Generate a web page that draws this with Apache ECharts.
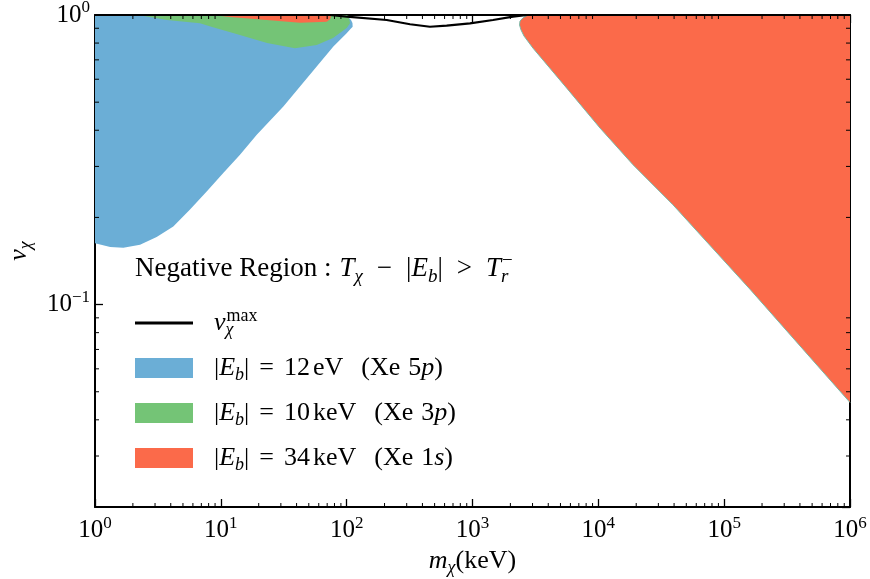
<!DOCTYPE html>
<html>
<head>
<meta charset="utf-8">
<script src="https://cdn.jsdelivr.net/npm/echarts@6/dist/echarts.min.js"></script>
<style>
  html, body { margin: 0; padding: 0; background: #fff; }
  #main { width: 870px; height: 579px; }
</style>
</head>
<body>
<div id="main"></div>
<script>
// axis ranges (log-log)
const xMin = 1, xMax = 1e6;
const yMin = 0.02, yMax = 1;

// major tick values
const xTicks = [1, 10, 100, 1e3, 1e4, 1e5, 1e6];
const yTicks = [0.1, 1];

// v_chi^max curve
const vMaxCurve = [[1, 1], [73.8, 1], [100, 0.987], [208, 0.961], [319, 0.929], [459, 0.911],
  [623, 0.919], [955, 0.936], [1455, 0.961], [2099, 0.987], [2712, 1], [1e6, 1]];

// lower edges of the negative regions (filled up to v = 1)
const blueEdge = [[1, 0.163], [1.32, 0.158], [1.68, 0.157], [2.28, 0.161], [3.09, 0.171], [4.19, 0.186],
  [5.69, 0.213], [7.72, 0.246], [10.5, 0.285], [14.2, 0.329], [19.3, 0.386], [31.4, 0.483],
  [42.6, 0.566], [57.8, 0.664], [78.4, 0.778], [100, 0.865], [107.2, 0.895], [111.6, 0.911],
  [111.2, 0.938], [108.3, 0.961], [103.4, 0.98], [97, 0.996], [93.7, 1]];

const greenEdge = [[2.16, 1], [2.74, 0.984], [3.73, 0.961], [6.83, 0.936], [8.66, 0.908], [12.5, 0.867],
  [23.3, 0.801], [38.8, 0.768], [57.8, 0.788], [77.9, 0.833], [100, 0.902], [106.4, 0.936],
  [104.5, 0.976], [100.3, 0.996], [99, 1]];

const redSmallEdge = [[8.51, 1], [12.5, 0.982], [23.2, 0.961], [42.6, 0.941], [69.4, 0.948],
  [73.8, 0.966], [75.1, 0.992], [73.8, 1]];

const redBigEdge = [[2761, 1], [2534, 0.98], [2385, 0.953], [2364, 0.924], [2430, 0.888], [2566, 0.846],
  [3027, 0.768], [5610, 0.559], [10313, 0.407], [18860, 0.304], [39200, 0.221], [160300, 0.113],
  [1e6, 0.0459]];

// minor ticks (2..9 x 10^k)
const xMinor = [];
for (let k = 0; k < 6; k++) for (let m = 2; m <= 9; m++) xMinor.push(m * Math.pow(10, k));
const yMinor = [0.03, 0.04, 0.05, 0.06, 0.07, 0.08, 0.09, 0.2, 0.3, 0.4, 0.5, 0.6, 0.7, 0.8, 0.9];

const FONT = 'Liberation Serif';
const BLUE = '#6baed6', GREEN = '#74c476', RED = '#fb6a4a';

// rich styles for the LaTeX-like texts
const makeRich = (size) => {
  const small = Math.round(size * 0.7);
  const off = Math.round(size * 0.55);
  return {
    i: { fontFamily: FONT, fontSize: size, fontStyle: 'italic', color: '#000' },
    t: { fontFamily: FONT, fontSize: size, color: '#000' },
    sub: { fontFamily: FONT, fontSize: small, fontStyle: 'italic', color: '#000', padding: [off, 0, 0, 0] },
    // subscript with (almost) no advance, so that the next superscript stacks above it
    subz: { fontFamily: FONT, fontSize: small, fontStyle: 'italic', color: '#000', padding: [off, 0, 0, 0], width: 1 },
    sup: { fontFamily: FONT, fontSize: small, color: '#000', padding: [0, 0, off, 0] },
    g3: { width: 3 }, g6: { width: 6 }, g8: { width: 8 }, g10: { width: 10 },
    g14: { width: 14 }, g16: { width: 16 }, g18: { width: 18 }
  };
};

const legendText = {
  vmax: '{g16| }{i|v}{subz|χ}{sup|max}',
  eb12: '{g16| }{t||}{i|E}{sub|b}{t||}{g10| }{t|=}{g10| }{t|12}{g3| }{t|eV}{g18| }{t|(Xe}{g8| }{t|5}{i|p}{t|)}',
  eb10: '{g16| }{t||}{i|E}{sub|b}{t||}{g10| }{t|=}{g10| }{t|10}{g3| }{t|keV}{g18| }{t|(Xe}{g8| }{t|3}{i|p}{t|)}',
  eb34: '{g16| }{t||}{i|E}{sub|b}{t||}{g10| }{t|=}{g10| }{t|34}{g3| }{t|keV}{g18| }{t|(Xe}{g8| }{t|1}{i|s}{t|)}'
};

const powLabel = v => {
  const e = Math.round(Math.log10(v));
  return '{b|10}{e|' + (e < 0 ? '−' + (-e) : e) + '}';
};
const tickRich = {
  b: { fontFamily: FONT, fontSize: 25, color: '#000' },
  e: { fontFamily: FONT, fontSize: 17, color: '#000', padding: [0, 0, 14, 0] }
};

const axisBase = {
  type: 'log', logBase: 10,
  axisLine: { show: true, lineStyle: { color: '#000', width: 2 } },
  axisTick: { show: true, inside: true, length: 8, lineStyle: { color: '#000', width: 1.3 } },
  splitLine: { show: false }
};

const myChart = echarts.init(document.getElementById('main'));

const tickSeries = (vals, horizontal) => ({
  type: 'custom',
  coordinateSystem: 'cartesian2d',
  silent: true,
  z: 20,
  clip: false,
  data: vals.map(v => horizontal ? [v, yMin] : [xMin, v]),
  renderItem: (params, api) => {
    const cs = params.coordSys;
    const len = 4;
    const st = { stroke: '#000', lineWidth: 1 };
    if (horizontal) {
      const x = api.coord([api.value(0), yMin])[0];
      return { type: 'group', children: [
        { type: 'line', shape: { x1: x, y1: cs.y + cs.height, x2: x, y2: cs.y + cs.height - len }, style: st },
        { type: 'line', shape: { x1: x, y1: cs.y, x2: x, y2: cs.y + len }, style: st }
      ] };
    }
    const y = api.coord([xMin, api.value(1)])[1];
    return { type: 'group', children: [
      { type: 'line', shape: { x1: cs.x, y1: y, x2: cs.x + len, y2: y }, style: st },
      { type: 'line', shape: { x1: cs.x + cs.width, y1: y, x2: cs.x + cs.width - len, y2: y }, style: st }
    ] };
  }
});

const areaSeries = (name, data, color, edge) => ({
  name: name,
  type: 'line',
  data: data,
  color: color,
  symbol: 'none',
  showSymbol: false,
  lineStyle: edge ? { color: edge, width: 1 } : { opacity: 0 },
  areaStyle: { color: color, opacity: 1, origin: 'end' },
  z: 2
});

const option = {
  animation: false,
  backgroundColor: '#fff',
  grid: { left: 95, right: 20, top: 15, bottom: 72, containLabel: false, outerBoundsMode: 'none' },
  title: {
    text: 'Negative Region :{g8| }{i|T}{sub|χ}{g14| }−{g14| }|{i|E}{sub|b}|{g14| }>{g14| }{i|T}{subz|r}{sup|−}',
    left: 130, top: 247,
    textStyle: { fontFamily: FONT, fontSize: 27, fontWeight: 'normal', color: '#000', rich: makeRich(27) }
  },
  legend: {
    orient: 'vertical',
    left: 130, top: 302,
    itemWidth: 58, itemHeight: 20, itemGap: 16,
    selectedMode: false,
    data: [
      { name: 'vmax', icon: 'path://M0,0L58,0L58,3L0,3Z' },
      { name: 'eb12', icon: 'rect', itemStyle: { borderWidth: 0 } },
      { name: 'eb10', icon: 'rect', itemStyle: { borderWidth: 0 } },
      { name: 'eb34', icon: 'rect', itemStyle: { borderWidth: 0 } }
    ],
    formatter: n => legendText[n],
    textStyle: { fontFamily: FONT, fontSize: 26, color: '#000', rich: makeRich(26) }
  },
  xAxis: [
    Object.assign({}, axisBase, {
      min: xMin, max: xMax, position: 'bottom',
      name: '{i|m}{sub|χ}{t|(keV)}', nameLocation: 'middle', nameGap: 24,
      nameTextStyle: { rich: makeRich(26) },
      axisLabel: { formatter: powLabel, rich: tickRich, margin: 8 }
    }),
    Object.assign({}, axisBase, {
      min: xMin, max: xMax, position: 'top', axisLabel: { show: false }
    })
  ],
  yAxis: [
    Object.assign({}, axisBase, {
      min: yMin, max: yMax, position: 'left',
      name: '{i|v}{sub|χ}', nameLocation: 'middle', nameGap: 60, nameRotate: 90,
      nameTextStyle: { rich: makeRich(26), padding: [0, 0, 0, 20] },
      axisLabel: { formatter: powLabel, rich: tickRich, margin: 5, showMinLabel: false }
    }),
    Object.assign({}, axisBase, {
      min: yMin, max: yMax, position: 'right', axisLabel: { show: false }
    })
  ],
  series: [
    areaSeries('eb12', blueEdge, BLUE),
    areaSeries('eb10', greenEdge, GREEN),
    areaSeries('eb34', redSmallEdge, RED),
    areaSeries('eb34', redBigEdge, RED, '#78b9a8'),
    {
      name: 'vmax',
      type: 'line',
      data: vMaxCurve,
      color: '#000',
      symbol: 'none',
      showSymbol: false,
      clip: false,
      lineStyle: { color: '#000', width: 2.2 },
      z: 10
    },
    tickSeries(xMinor, true),
    tickSeries(yMinor, false)
  ]
};

myChart.setOption(option);
</script>
</body>
</html>
